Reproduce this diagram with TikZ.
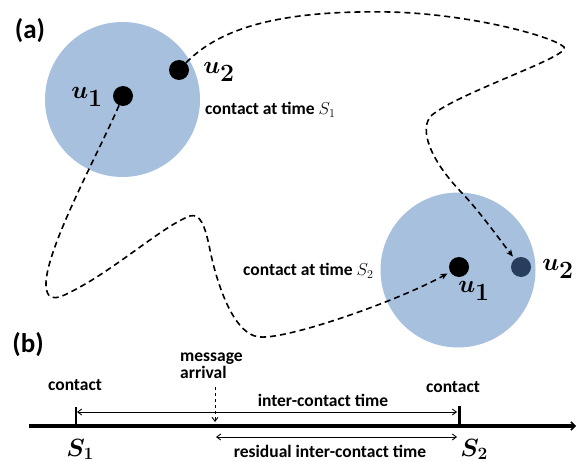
\documentclass[tikz,border=0pt]{standalone}
\usepackage{fontspec}
\setmainfont{Carlito}
\usepackage{bm}
\usetikzlibrary{arrows.meta}
\definecolor{disk}{RGB}{167,192,222}
\definecolor{darknode}{RGB}{40,62,94}
\begin{document}
\begin{tikzpicture}[x=1pt,y=-1pt,
  coverage/.style={circle, fill=disk, minimum size=155pt, inner sep=0pt},
  nodedot/.style={circle, fill=black, minimum size=20pt, inner sep=0pt},
  mathlbl/.style={font=\fontsize{34}{36}\selectfont, inner sep=0pt},
  timelbl/.style={font=\fontsize{27}{29}\selectfont, inner sep=0pt, anchor=base},
  txt/.style={font=\bfseries\fontsize{17.5}{20}\selectfont, inner sep=0pt},
  panel/.style={font=\bfseries\fontsize{27}{29}\selectfont, inner sep=0pt},
  movetrack/.style={dash pattern=on 6pt off 4pt, line width=1.6pt,
    -{Stealth[length=7pt,width=6pt]}},
  intervalarrow/.style={line width=0.9pt,
    {Straight Barb[length=4pt,width=6pt]}-{Straight Barb[length=4pt,width=6pt]}},
]
\useasboundingbox (0,0) rectangle (577,462);

% ---------- (a) trajectories of two nodes ----------
\node[panel] (pa) at (30,31) {(a)};

\node[coverage] (r1) at (122.5,99.5) {};
\node[coverage] (r2) at (458,270) {};

\node[nodedot] (u1a) at (123,96) {};
\node[nodedot] (u2a) at (179,70) {};
\node[nodedot] (u1b) at (459,267) {};
\node[nodedot, fill=darknode] (u2b) at (521,267) {};

% path of u1
\draw[movetrack, shorten >=3pt] (u1a)
  .. controls (100,150) and (45,250) .. (46,285)
  .. controls (47,305) and (60,298) .. (80,287)
  .. controls (120,265) and (165,225) .. (190,216)
  .. controls (200,213) and (205,225) .. (210,250)
  .. controls (214,270) and (230,335) .. (260,337)
  .. controls (290,339) and (400,300) .. (u1b);

% path of u2
\draw[movetrack, shorten >=3pt] (u2a)
  .. controls (220,28) and (280,10) .. (390,12)
  .. controls (470,14) and (552,36) .. (564,47)
  .. controls (572,56) and (460,92) .. (432,115)
  .. controls (418,128) and (430,160) .. (462,193)
  .. controls (480,212) and (500,240) .. (u2b);

\node[mathlbl] (l1a) at (87,97) {$\bm{u}_{\bm{1}}$};
\node[mathlbl] (l2a) at (219,72) {$\bm{u}_{\bm{2}}$};
\node[mathlbl] (l1b) at (474,291) {$\bm{u}_{\bm{1}}$};
\node[mathlbl] (l2b) at (558,269) {$\bm{u}_{\bm{2}}$};

\node[txt, anchor=west] (c1) at (205,110) {contact at time $S_1$};
\node[txt, anchor=west] (c2) at (243,271) {contact at time $S_2$};

% ---------- (b) time line ----------
\node[panel] (pb) at (28,345) {(b)};

\coordinate (ax0) at (29,426);
\coordinate (ax1) at (576,426);
\draw[line width=3.5pt, -{Straight Barb[length=4pt,width=8pt,line width=1.5pt]}] (ax0) -- (ax1);

\coordinate (t1) at (76,426);
\coordinate (t1top) at (76,407);
\coordinate (t2) at (459,426);
\coordinate (t2top) at (459,406);
\draw[line width=2pt] (t1) -- (t1top);
\draw[line width=3pt] (t2) -- (t2top);

\coordinate (ia) at (77,412);
\coordinate (ib) at (457,412);
\draw[intervalarrow] (ia) -- (ib);

\coordinate (ra) at (216,437);
\coordinate (rb) at (457,437);
\draw[intervalarrow] (ra) -- (rb);

\coordinate (ma) at (215,387);
\coordinate (mb) at (215,422);
\draw[line width=0.9pt, dash pattern=on 3pt off 3pt,
  -{Straight Barb[length=4pt,width=6pt]}] (ma) -- (mb);

\node[txt] (k1) at (75,385) {contact};
\node[txt] (k2) at (453,387) {contact};
\node[txt, anchor=west, align=left] (msg) at (180,366) {message\\[-3pt]arrival};
\node[txt] (ict) at (323,400) {inter-contact time};
\node[txt] (rict) at (330,451) {residual inter-contact time};

\node[timelbl] (s1) at (80,456) {$\bm{S}_{\bm{1}}$};
\node[timelbl] (s2) at (474,456) {$\bm{S}_{\bm{2}}$};
\end{tikzpicture}
\end{document}
